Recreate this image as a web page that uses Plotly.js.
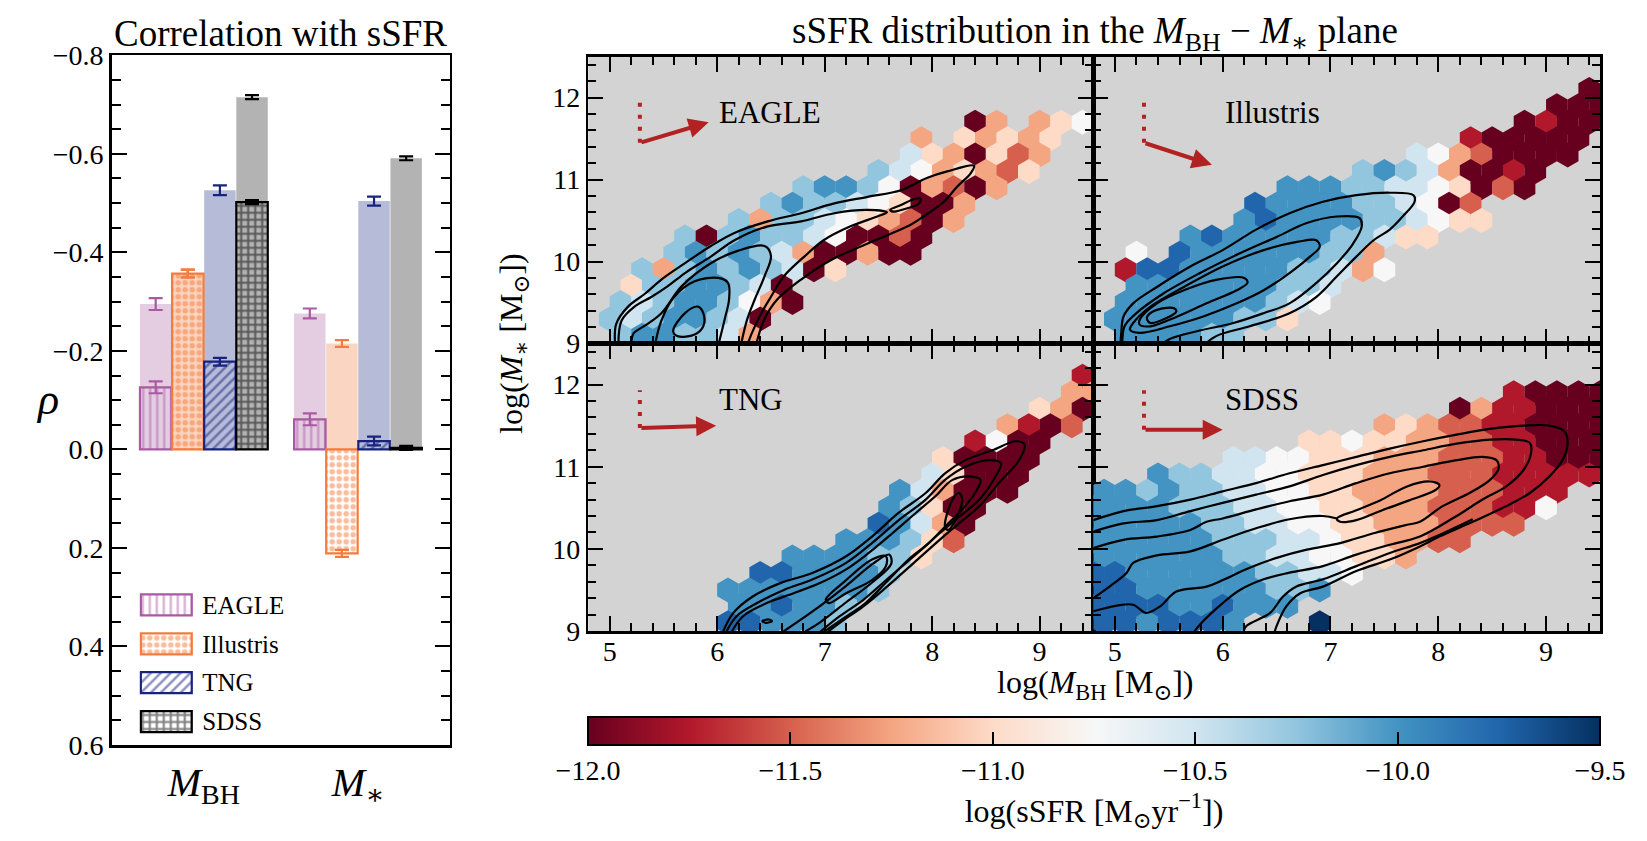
<!DOCTYPE html>
<html><head><meta charset="utf-8">
<script src="https://cdn.plot.ly/plotly-3.0.1.min.js"></script>
<style>html,body{margin:0;padding:0;background:#fff;}#chart{width:1647px;height:841px;}</style>
</head><body><div id="chart"></div>
<script>
const W = 1647, H = 841;
const FONT = '"Liberation Serif", "DejaVu Serif", serif';

// ---------------- left panel: correlation with sSFR ----------------
const simNames = ['EAGLE', 'Illustris', 'TNG', 'SDSS'];
const groupLabels = ['<i>M</i><sub>BH</sub>', '<i>M</i><sub>∗</sub>'];
const rhoTotalMBH     = [-0.295, -0.357, -0.526, -0.715];
const errTotalMBH     = [0.012, 0.008, 0.010, 0.004];
const rhoPartialMBH   = [-0.126, -0.357, -0.178, -0.502];
const errPartialMBH   = [0.012, 0.008, 0.008, 0.004];
const rhoTotalMstar   = [-0.276, -0.215, -0.504, -0.591];
const errTotalMstar   = [0.010, 0.007, 0.009, 0.004];
const rhoPartialMstar = [-0.061, 0.211, -0.017, -0.003];
const errPartialMstar = [0.012, 0.007, 0.009, 0.004];
const rhoTicks = [-0.8, -0.6, -0.4, -0.2, 0.0, 0.2, 0.4, 0.6];

const darkColors  = ['#a95aa3', '#f47b3b', '#19237f', '#000000'];
const lightColors = ['#e4cde1', '#fad5c1', '#b6bcd8', '#b3b3b3'];
const hatchShapes = ['|', '.', '/', '+'];
const hatchSize   = [7, 7, 7, 7];
const hatchSolid  = [0.32, 0.5, 0.36, 0.5];

// ---------------- right panels: hexbin sSFR maps ----------------
// code digit -> log sSFR level (0 = -12.0 ... a = -9.5)
const ssfrLevels = [-12.0, -11.75, -11.5, -11.25, -11.0, -10.75, -10.5, -10.25, -10.0, -9.75, -9.5];
// rows from y = 12.5 (top) down to 9.1 in steps of 0.2; [first column, codes]
const hexEAGLE = [
  [0, ''], [0, ''], [0, ''], [0, ''],
  [18, '03.345'],
  [15, '3.43434'],
  [15, '6430423'],
  [13, '76534324'],
  [10, '7887503203'],
  [8, '7877654003'],
  [7, '73776543203'],
  [4, '707877650020'],
  [4, '787876300300'],
  [2, '7378787604'],
  [2, '47788760'],
  [1, '767887530'],
  [1, '76788760'],
  [1, '7887763']
];
const hexIllustris = [
  [0, ''], [0, ''],
  [23, '0'],
  [21, '000'],
  [20, '0100'],
  [17, '100000'],
  [15, '65320000'],
  [12, '787630010'],
  [9, '888776654020'],
  [7, '98888776502'],
  [7, '898888776544'],
  [4, '898888877644'],
  [2, '5.9888888773'],
  [1, '1998888877635'],
  [2, '8888888776'],
  [1, '8888888765'],
  [1, '888888774'],
  [1, '888877']
];
const hexTNG = [
  [0, ''], [0, ''],
  [23, '1'],
  [22, '33'],
  [21, '430'],
  [19, '3102'],
  [18, '1500'],
  [16, '40000'],
  [16, '64000'],
  [14, '863000'],
  [14, '87400'],
  [13, '98630'],
  [12, '888742'],
  [9, '8888774'],
  [8, '9988887'],
  [6, '88888887'],
  [7, '889887'],
  [6, '998887']
];
const hexSDSS = [
  [0, ''], [0, ''], [0, ''],
  [19, '10000'],
  [17, '0311000'],
  [13, '34322110000'],
  [10, '44544332211000'],
  [6, '665544433322211000'],
  [3, '877665544433322211111'],
  [0, '8878776655443333222111'],
  [0, '8888777665544333222115'],
  [0, '88888776655443332222'],
  [0, '888888777665443322'],
  [0, '888888776655443'],
  [0, '9988888877665'],
  [0, '99888888778'],
  [0, '9999889888'],
  [0, '9989998...a']
];

// density contours (log M_BH, log M_*)
const contoursEAGLE = [
  [[5.05,8.98],[5.06,9.24],[5.17,9.45],[5.33,9.61],[5.48,9.78],[5.70,9.98],[5.94,10.19],[6.16,10.35],[6.47,10.49],[6.78,10.59],[7.09,10.71],[7.40,10.79],[7.71,10.87],[7.95,11.02],[8.14,11.10],[8.39,11.17],[8.36,11.08],[8.23,10.91],[8.11,10.73],[7.92,10.55],[7.80,10.45],[7.40,10.22],[7.06,10.02],[6.78,9.78],[6.56,9.54],[6.44,9.30],[6.36,8.98]],
  [[5.08,8.98],[5.11,9.28],[5.23,9.45],[5.39,9.57],[5.54,9.70],[5.70,9.86],[5.94,10.06],[6.16,10.26],[6.47,10.43],[6.78,10.49],[7.09,10.59],[7.40,10.63],[7.58,10.60],[7.49,10.55],[7.24,10.43],[6.99,10.26],[6.81,10.06],[6.62,9.82],[6.50,9.57],[6.41,9.37],[6.32,9.12],[6.28,8.98]],
  [[5.20,8.98],[5.22,9.12],[5.33,9.22],[5.48,9.37],[5.67,9.70],[5.94,9.98],[6.19,10.13],[6.44,10.19],[6.50,10.07],[6.44,9.82],[6.35,9.54],[6.28,9.30],[6.22,8.98]],
  [[5.42,8.98],[5.48,9.28],[5.60,9.57],[5.79,9.76],[6.01,9.80],[6.10,9.74],[6.11,9.54],[6.07,9.30],[6.01,8.98]],
  [[5.59,9.15],[5.70,9.37],[5.82,9.45],[5.87,9.37],[5.87,9.21],[5.79,9.11],[5.63,9.09],[5.59,9.15]],
  [[7.61,10.63],[7.71,10.69],[7.83,10.76],[7.89,10.77],[7.88,10.71],[7.77,10.65],[7.64,10.61],[7.61,10.63]]
];
const contoursIllustris = [
  [[5.05,8.95],[5.06,9.14],[5.08,9.33],[5.17,9.49],[5.39,9.69],[5.70,9.94],[6.00,10.14],[6.31,10.39],[6.62,10.59],[6.93,10.73],[7.24,10.81],[7.55,10.84],[7.77,10.81],[7.78,10.73],[7.67,10.55],[7.55,10.39],[7.40,10.26],[7.24,10.06],[7.06,9.82],[6.87,9.57],[6.62,9.37],[6.25,9.21],[5.94,9.09],[5.80,8.95]],
  [[5.07,8.95],[5.09,9.21],[5.20,9.37],[5.45,9.61],[5.79,9.86],[6.16,10.10],[6.50,10.30],[6.78,10.47],[7.06,10.55],[7.27,10.53],[7.29,10.43],[7.21,10.22],[7.06,9.98],[6.87,9.74],[6.62,9.49],[6.38,9.37],[6.10,9.25],[5.76,9.15],[5.50,9.05],[5.40,8.95]],
  [[5.17,9.25],[5.33,9.45],[5.64,9.69],[6.00,9.94],[6.38,10.14],[6.69,10.24],[6.87,10.26],[6.90,10.18],[6.81,10.06],[6.62,9.86],[6.38,9.65],[6.13,9.49],[5.82,9.33],[5.51,9.21],[5.23,9.13],[5.14,9.17],[5.17,9.25]],
  [[5.23,9.29],[5.39,9.49],[5.64,9.65],[5.95,9.78],[6.20,9.80],[6.23,9.74],[6.13,9.65],[5.85,9.49],[5.58,9.33],[5.33,9.21],[5.23,9.23],[5.23,9.29]],
  [[5.30,9.33],[5.39,9.41],[5.55,9.43],[5.57,9.39],[5.48,9.31],[5.33,9.25],[5.30,9.29],[5.30,9.33]]
];
const contoursTNG = [
  [[6.05,8.98],[6.15,9.22],[6.33,9.42],[6.58,9.58],[6.89,9.71],[7.20,9.91],[7.44,10.15],[7.69,10.44],[7.94,10.68],[8.12,10.92],[8.31,11.08],[8.56,11.20],[8.78,11.31],[8.86,11.27],[8.81,11.08],[8.62,10.80],[8.44,10.52],[8.25,10.31],[8.07,10.11],[7.83,9.83],[7.58,9.54],[7.36,9.30],[7.14,9.10],[7.02,8.98]],
  [[6.08,8.98],[6.18,9.18],[6.37,9.34],[6.62,9.50],[6.89,9.63],[7.20,9.83],[7.44,10.07],[7.69,10.35],[7.94,10.60],[8.12,10.84],[8.31,11.00],[8.53,11.08],[8.64,11.04],[8.59,10.88],[8.44,10.60],[8.25,10.39],[8.07,10.19],[7.83,9.91],[7.58,9.63],[7.36,9.38],[7.14,9.18],[6.95,8.98]],
  [[6.13,8.98],[6.24,9.18],[6.46,9.34],[6.71,9.46],[6.95,9.58],[7.20,9.75],[7.41,9.95],[7.63,10.19],[7.85,10.44],[8.03,10.64],[8.19,10.84],[8.37,10.88],[8.45,10.84],[8.40,10.68],[8.28,10.48],[8.12,10.27],[7.97,10.07],[7.78,9.87],[7.57,9.59],[7.38,9.34],[7.16,9.14],[6.98,8.98]],
  [[6.60,8.98],[6.90,9.25],[7.20,9.55],[7.45,9.82],[7.60,9.93],[7.62,9.82],[7.45,9.60],[7.20,9.35],[6.95,9.10],[6.80,8.98]],
  [[7.01,9.38],[7.20,9.62],[7.44,9.87],[7.57,9.91],[7.57,9.79],[7.44,9.62],[7.20,9.46],[7.04,9.34],[7.01,9.38]],
  [[8.12,10.27],[8.19,10.60],[8.25,10.68],[8.28,10.60],[8.22,10.36],[8.15,10.23],[8.12,10.27]],
  [[6.42,9.12],[6.48,9.14],[6.51,9.12],[6.45,9.10],[6.42,9.12]]
];
const contoursSDSS = [
  [[4.80,10.35],[5.08,10.46],[5.39,10.52],[5.70,10.60],[6.00,10.70],[6.31,10.80],[6.62,10.92],[6.93,11.02],[7.24,11.12],[7.55,11.22],[7.86,11.31],[8.17,11.39],[8.48,11.46],[8.79,11.50],[9.03,11.50],[9.17,11.43],[9.20,11.31],[9.16,11.10],[9.03,10.88],[8.85,10.68],[8.63,10.52],[8.32,10.33],[8.01,10.15],[7.83,10.03],[7.55,9.87],[7.24,9.73],[6.93,9.54],[6.72,9.46],[6.59,9.30],[6.50,9.06],[6.48,8.98]],
  [[4.80,10.21],[5.08,10.31],[5.39,10.35],[5.70,10.46],[6.00,10.56],[6.31,10.66],[6.62,10.76],[6.93,10.90],[7.24,11.02],[7.55,11.12],[7.86,11.20],[8.17,11.28],[8.48,11.33],[8.72,11.33],[8.85,11.29],[8.86,11.16],[8.79,10.96],[8.63,10.76],[8.41,10.60],[8.17,10.40],[7.83,10.15],[7.55,10.05],[7.24,9.93],[6.93,9.79],[6.62,9.71],[6.38,9.63],[6.16,9.50],[6.00,9.34],[5.79,9.08],[5.73,8.98]],
  [[4.80,10.01],[5.08,10.11],[5.39,10.15],[5.70,10.23],[5.85,10.33],[6.00,10.37],[6.31,10.48],[6.62,10.58],[6.93,10.66],[7.24,10.80],[7.55,10.92],[7.86,11.00],[8.17,11.08],[8.41,11.12],[8.54,11.08],[8.56,10.98],[8.48,10.84],[8.29,10.68],[8.04,10.52],[7.83,10.33],[7.70,10.29],[7.40,10.19],[7.09,10.07],[6.78,9.99],[6.50,9.89],[6.25,9.77],[6.00,9.62],[5.85,9.54],[5.57,9.48],[5.42,9.30],[5.29,9.22],[5.17,9.32],[5.02,9.31],[4.80,9.24]],
  [[4.80,9.40],[4.95,9.54],[5.11,9.71],[5.17,9.83],[5.39,9.92],[5.70,9.97],[6.00,10.11],[6.31,10.25],[6.62,10.36],[6.93,10.40],[7.06,10.37]],
  [[6.19,8.98],[6.22,9.06],[6.44,9.22],[6.56,9.42],[6.68,9.54],[6.93,9.63],[7.24,9.79],[7.55,9.95],[7.83,10.07],[8.01,10.17],[8.32,10.36]],
  [[7.06,10.37],[7.24,10.47],[7.46,10.59],[7.71,10.76],[7.92,10.82],[8.01,10.78],[7.98,10.72],[7.73,10.59],[7.48,10.47],[7.24,10.35],[7.09,10.33],[7.06,10.37]]
];

// arrows (tail -> head) and dotted verticals, per panel
const arrowTailX = [5.28, 5.27, 5.28, 5.27];
const arrowTailY = [11.45, 11.45, 11.47, 11.45];
const arrowHeadX = [5.92, 5.90, 5.99, 6.00];
const arrowHeadY = [11.70, 11.18, 11.50, 11.45];
const dottedTopY = [11.94, 11.94, 11.93, 11.93];

const cbTicks = [-12.0, -11.5, -11.0, -10.5, -10.0, -9.5];
const rdbu = [[0,'#67001f'],[0.1,'#b2182b'],[0.2,'#d6604d'],[0.3,'#f4a582'],[0.4,'#fddbc7'],[0.5,'#f7f7f7'],[0.6,'#d1e5f0'],[0.7,'#92c5de'],[0.8,'#4393c3'],[0.9,'#2166ac'],[1,'#053061']];

// ---------------- helpers ----------------
const px = v => v / W;
const py = v => 1 - v / H;
const fmt = (v, d) => (v < 0 ? '\u2212' : '') + Math.abs(v).toFixed(d);

function decodeHex(rows) {
  const xs = [], ys = [], cs = [];
  rows.forEach((r, i) => {
    const y = 12.5 - 0.2 * i;
    const x0 = (i % 2 === 0) ? 4.8 : 4.9;
    const start = r[0], codes = r[1];
    for (let k = 0; k < codes.length; k++) {
      const ch = codes[k];
      if (ch === '.') continue;
      xs.push(+(x0 + 0.2 * (start + k)).toFixed(2));
      ys.push(+y.toFixed(2));
      cs.push(ssfrLevels[parseInt(ch, 16)]);
    }
  });
  return {xs, ys, cs};
}
function flatten(lines) {
  const x = [], y = [];
  lines.forEach(l => { l.forEach(p => { x.push(p[0]); y.push(p[1]); }); x.push(null); y.push(null); });
  return {x, y};
}

const data = [];
const groupOffset = 4.8;
simNames.forEach((s, i) => {
  data.push({
    type: 'bar', xaxis: 'x', yaxis: 'y', showlegend: false, hoverinfo: 'skip',
    x: [i, i + groupOffset], y: [rhoTotalMBH[i], rhoTotalMstar[i]], width: 0.98,
    marker: {color: lightColors[i], line: {width: 0}},
    error_y: {type: 'data', array: [errTotalMBH[i], errTotalMstar[i]], color: darkColors[i], thickness: 2.2, width: 7}
  });
});
simNames.forEach((s, i) => {
  data.push({
    type: 'bar', xaxis: 'x', yaxis: 'y', showlegend: false, hoverinfo: 'skip',
    x: [i, i + groupOffset], y: [rhoPartialMBH[i], rhoPartialMstar[i]], width: 0.98,
    marker: {color: 'rgba(0,0,0,0)', line: {width: 2.2, color: darkColors[i]},
      pattern: {shape: hatchShapes[i], fgcolor: darkColors[i], bgcolor: 'rgba(0,0,0,0)', size: hatchSize[i], solidity: hatchSolid[i], fillmode: 'overlay'}},
    error_y: {type: 'data', array: [errPartialMBH[i], errPartialMstar[i]], color: darkColors[i], thickness: 2.2, width: 7}
  });
});
simNames.forEach((s, i) => {
  data.push({
    type: 'bar', orientation: 'h', xaxis: 'x6', yaxis: 'y6', showlegend: false, hoverinfo: 'skip',
    x: [1], y: [i], width: 0.54,
    marker: {color: 'rgba(0,0,0,0)', line: {width: 2.2, color: darkColors[i]},
      pattern: {shape: hatchShapes[i], fgcolor: darkColors[i], bgcolor: 'rgba(0,0,0,0)', size: hatchSize[i], solidity: hatchSolid[i], fillmode: 'overlay'}}
  });
});

const panels = [hexEAGLE, hexIllustris, hexTNG, hexSDSS];
const panelContours = [contoursEAGLE, contoursIllustris, contoursTNG, contoursSDSS];
const axIds = ['2', '3', '4', '5'];
panels.forEach((rows, p) => {
  const h = decodeHex(rows);
  data.push({
    type: 'scatter', mode: 'markers', xaxis: 'x' + axIds[p], yaxis: 'y' + axIds[p], hoverinfo: 'skip', showlegend: false,
    x: h.xs, y: h.ys,
    marker: {symbol: 'hexagon', size: 25, color: h.cs, coloraxis: 'coloraxis', line: {width: 0}}
  });
});
panelContours.forEach((lines, p) => {
  const f = flatten(lines);
  data.push({
    type: 'scatter', mode: 'lines', xaxis: 'x' + axIds[p], yaxis: 'y' + axIds[p], hoverinfo: 'skip', showlegend: false,
    x: f.x, y: f.y, line: {color: 'black', width: 2.2, shape: 'spline', smoothing: 1}
  });
});

// ---------------- layout ----------------
const TICKFONT = {size: 28, family: FONT, color: 'black'};
const tickBase = {ticks: 'inside', ticklen: 15, tickwidth: 2, tickcolor: 'black', showline: true, linecolor: 'black', linewidth: 2.5,
  mirror: 'allticks', showgrid: false, zeroline: false, tickfont: TICKFONT};
const xPanel = (dom, anchor, labels) => Object.assign({}, tickBase, {domain: dom, anchor: anchor, range: [4.8, 9.5], tick0: 5, dtick: 1,
  minor: {dtick: 0.2, tick0: 5, ticklen: 8, tickwidth: 2, ticks: 'inside', tickcolor: 'black'}, showticklabels: labels, ticklabelstandoff: -6});
const yPanel = (dom, anchor, labels) => Object.assign({}, tickBase, {domain: dom, anchor: anchor, range: [9, 12.5], tick0: 9, dtick: 1,
  minor: {dtick: 0.2, tick0: 9, ticklen: 8, tickwidth: 2, ticks: 'inside', tickcolor: 'black'}, showticklabels: labels});

const xL = [px(588.3), px(1093.3)], xR = [px(1093.3), px(1600)];
const yT = [py(343.5), py(56.7)], yB = [py(631), py(343.5)];

const layout = {
  width: W, height: H, margin: {l: 0, r: 0, t: 0, b: 0, autoexpand: false},
  paper_bgcolor: 'white', plot_bgcolor: 'white', barmode: 'overlay', showlegend: false,
  font: {family: FONT, color: 'black', size: 28},
  xaxis: Object.assign({}, tickBase, {domain: [px(111.7), px(449.5)], anchor: 'y', range: [-1.37, 9.15],
    tickmode: 'array', tickvals: [1.5, 1.5 + groupOffset], ticktext: groupLabels, ticks: '', mirror: true,
    tickfont: {size: 40, family: FONT, color: 'black'}}),
  yaxis: Object.assign({}, tickBase, {domain: [py(745), py(55.3)], anchor: 'x', range: [0.6, -0.8],
    tickmode: 'array', tickvals: rhoTicks, ticktext: rhoTicks.map(v => fmt(v, 1)),
    minor: {tickmode: 'linear', tick0: -0.8, dtick: 0.05, ticklen: 9, tickwidth: 2, ticks: 'inside', tickcolor: 'black'}}),
  xaxis2: xPanel(xL, 'y2', false), yaxis2: yPanel(yT, 'x2', true),
  xaxis3: xPanel(xR, 'y3', false), yaxis3: yPanel(yT, 'x3', false),
  xaxis4: xPanel(xL, 'y4', true),  yaxis4: yPanel(yB, 'x4', true),
  xaxis5: xPanel(xR, 'y5', true),  yaxis5: yPanel(yB, 'x5', false),
  xaxis6: {domain: [px(139.3), px(193.3)], anchor: 'y6', range: [-0.03, 1.03], visible: false},
  yaxis6: {domain: [py(741), py(585.5)], anchor: 'x6', range: [3.5, -0.5], tickmode: 'array', tickvals: [0, 1, 2, 3], ticktext: simNames,
    side: 'right', ticks: '', ticklabelstandoff: 8, showline: false, showgrid: false, zeroline: false, tickfont: {size: 25, family: FONT, color: 'black'}},
  coloraxis: {cmin: -12, cmax: -9.5, colorscale: rdbu,
    colorbar: {orientation: 'h', x: px(1094), xanchor: 'center', len: (1600 - 588) / W, lenmode: 'fraction',
      y: py(717), yanchor: 'top', thickness: 28, thicknessmode: 'pixels', xpad: 0, ypad: 0,
      outlinewidth: 2, outlinecolor: 'black', ticks: 'inside', ticklen: 14, tickwidth: 2, tickcolor: 'black',
      tickmode: 'array', tickvals: cbTicks, ticktext: cbTicks.map(v => fmt(v, 1)), tickfont: TICKFONT,
      title: {text: 'log(sSFR [M<sub>⊙</sub>yr<sup>−1</sup>])', side: 'bottom', font: {size: 32, family: FONT, color: 'black'}}}},
  shapes: [], annotations: []
};

axIds.forEach((a, p) => {
  layout.shapes.push({type: 'rect', xref: 'x' + a + ' domain', yref: 'y' + a + ' domain', x0: 0, x1: 1, y0: 0, y1: 1,
    fillcolor: '#d3d3d3', line: {width: 0}, layer: 'below'});
  layout.shapes.push({type: 'line', xref: 'x' + a, yref: 'y' + a, x0: arrowTailX[p], x1: arrowTailX[p], y0: arrowTailY[p], y1: dottedTopY[p],
    line: {color: '#b22222', width: 4, dash: '4px,8px'}});
  layout.annotations.push({xref: 'x' + a, yref: 'y' + a, axref: 'x' + a, ayref: 'y' + a,
    x: arrowHeadX[p], y: arrowHeadY[p], ax: arrowTailX[p], ay: arrowTailY[p], text: '', showarrow: true,
    arrowhead: 2, arrowsize: 1, arrowwidth: 4, arrowcolor: '#b22222', standoff: 0, startstandoff: 0});
  layout.annotations.push({xref: 'x' + a, yref: 'y' + a, x: 6.0, y: 11.82, xanchor: 'left', yanchor: 'middle', showarrow: false,
    text: simNames[p], font: {size: 31, family: FONT, color: 'black'}});
});

layout.annotations.push(
  {xref: 'paper', yref: 'paper', x: px(280), y: py(33), xanchor: 'center', yanchor: 'middle', showarrow: false,
    text: 'Correlation with sSFR', font: {size: 37, family: FONT, color: 'black'}},
  {xref: 'paper', yref: 'paper', x: px(1095), y: py(33), xanchor: 'center', yanchor: 'middle', showarrow: false,
    text: 'sSFR distribution in the <i>M</i><sub>BH</sub> − <i>M</i><sub>∗</sub> plane', font: {size: 37, family: FONT, color: 'black'}},
  {xref: 'paper', yref: 'paper', x: px(47), y: py(399), xanchor: 'center', yanchor: 'middle', showarrow: false,
    text: '<i>ρ</i>', font: {size: 44, family: FONT, color: 'black'}},
  {xref: 'paper', yref: 'paper', x: px(513), y: py(344), xanchor: 'center', yanchor: 'middle', showarrow: false, textangle: -90,
    text: 'log(<i>M</i><sub>∗</sub> [M<sub>⊙</sub>])', font: {size: 32, family: FONT, color: 'black'}},
  {xref: 'paper', yref: 'paper', x: px(1095), y: py(684), xanchor: 'center', yanchor: 'middle', showarrow: false,
    text: 'log(<i>M</i><sub>BH</sub> [M<sub>⊙</sub>])', font: {size: 32, family: FONT, color: 'black'}}
);

Plotly.newPlot('chart', data, layout, {staticPlot: true});
</script>
</body></html>
